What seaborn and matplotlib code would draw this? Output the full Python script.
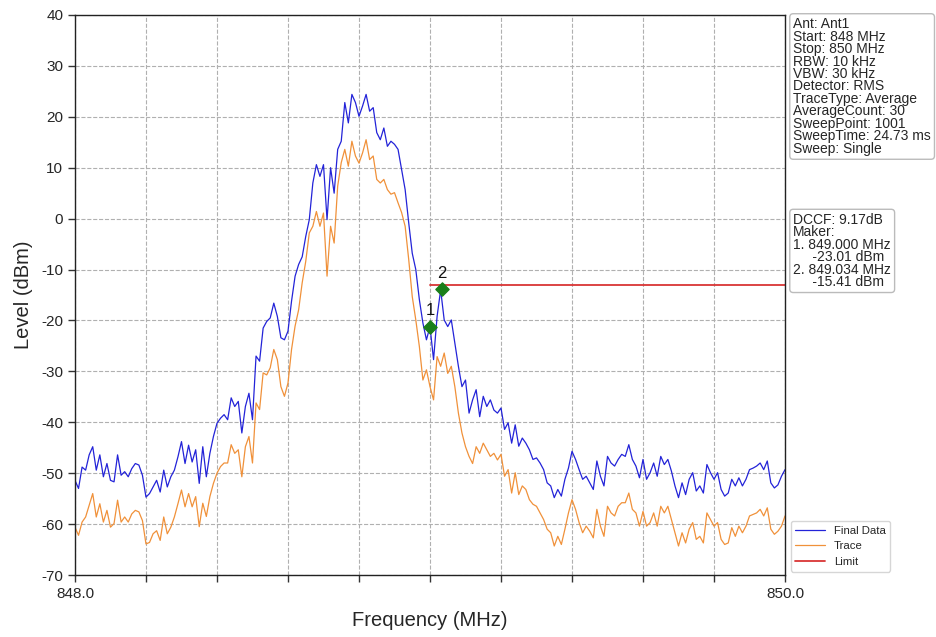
import numpy as np
import pandas as pd
import matplotlib
matplotlib.use("Agg")
import matplotlib.pyplot as plt
import seaborn as sns

# sweep settings
freq_start = 848.0
freq_stop = 850.0

# Final Data trace (dBm), read every 10 kHz from 848.00 to 850.00 MHz
final_data = [
    -51.4, -53.0, -48.8, -49.4, -46.4, -44.8, -49.4, -46.4, -50.7, -48.1,
    -51.4, -51.7, -46.4, -50.4, -49.7, -50.7, -49.1, -48.1, -48.4, -50.4,
    -54.7, -54.0, -52.7, -51.4, -53.7, -49.4, -52.7, -50.7, -49.4, -46.8,
    -43.8, -48.1, -44.5, -47.8, -45.4, -52.0, -44.8, -50.7, -46.1, -42.8,
    -40.2, -39.2, -38.5, -39.5, -35.2, -36.9, -35.9, -42.1, -36.9, -34.3,
    -39.5, -27.0, -28.0, -21.5, -20.2, -19.5, -16.6, -19.2, -23.4, -23.8,
    -22.1, -16.2, -11.3, -9.0, -7.5, -3.5, -0.2, 7.0, 10.6, 8.3,
    10.6, -0.2, 10.0, 5.0, 13.6, 15.2, 22.8, 18.8, 24.4, 22.8,
    20.1, 22.1, 24.4, 21.1, 21.8, 16.9, 15.5, 17.8, 14.2, 15.2,
    14.6, 13.6, 9.6, 5.7, -0.8, -6.8, -10.0, -15.9, -20.5, -23.8,
    -21.2, -27.7, -19.2, -14.0, -19.9, -21.2, -19.9, -24.5, -29.0, -33.0,
    -31.7, -38.2, -35.6, -33.6, -38.9, -34.9, -36.9, -35.6, -37.6, -38.2,
    -37.2, -41.4, -40.1, -44.1, -40.5, -44.7, -43.1, -44.1, -45.4, -47.3,
    -47.0, -48.0, -49.3, -51.9, -52.5, -54.8, -53.2, -54.5, -51.2, -49.0,
    -45.7, -47.3, -49.3, -51.2, -50.6, -51.9, -53.2, -47.6, -50.6, -52.5,
    -46.7, -48.0, -48.6, -47.3, -46.3, -46.7, -44.4, -47.3, -48.6, -50.9,
    -47.3, -51.2, -49.9, -48.0, -50.6, -46.7, -48.3, -47.3, -49.6, -52.5,
    -54.8, -51.9, -54.2, -51.2, -49.9, -53.5, -52.5, -53.9, -48.3, -49.9,
    -51.2, -49.9, -53.2, -54.5, -53.9, -51.2, -52.5, -50.9, -52.5, -51.2,
    -49.3, -49.0, -48.6, -48.0, -49.3, -47.6, -51.9, -52.9, -52.3, -50.6,
    -49.3,
]

# Trace (dBm), same frequency points
trace_data = [
    -60.6, -62.2, -59.6, -58.6, -56.3, -54.0, -58.6, -56.0, -59.6, -57.3,
    -60.6, -59.9, -55.3, -59.6, -58.6, -59.6, -58.0, -57.3, -57.6, -59.3,
    -63.9, -63.6, -61.9, -61.3, -63.2, -58.6, -61.9, -60.6, -58.6, -56.0,
    -53.3, -56.6, -54.0, -56.6, -54.6, -60.5, -55.9, -58.5, -54.6, -52.0,
    -50.0, -48.7, -48.0, -48.0, -44.4, -46.1, -45.4, -50.7, -44.8, -42.8,
    -48.0, -36.2, -37.5, -30.3, -30.7, -29.3, -25.7, -27.7, -33.0, -34.9,
    -32.3, -25.7, -21.1, -17.9, -12.6, -8.4, -2.8, -1.5, 1.4, -1.5,
    1.1, -11.3, -1.5, -4.8, 6.4, 11.0, 13.6, 10.3, 15.2, 12.3,
    10.9, 12.9, 15.5, 11.6, 12.3, 7.7, 7.0, 7.7, 5.7, 4.8,
    5.1, 3.1, 1.2, -1.5, -8.0, -15.3, -19.9, -25.1, -31.7, -29.7,
    -33.0, -35.6, -27.1, -29.0, -26.4, -30.4, -29.0, -33.0, -38.2, -42.1,
    -44.8, -46.7, -48.1, -44.8, -46.1, -44.1, -45.4, -46.7, -46.1, -47.4,
    -46.3, -50.6, -49.3, -53.9, -49.9, -54.2, -52.5, -53.2, -55.2, -56.1,
    -56.5, -57.8, -59.1, -61.0, -61.7, -64.3, -62.4, -64.0, -61.0, -57.8,
    -55.2, -57.1, -59.7, -61.7, -60.4, -61.4, -62.7, -57.1, -60.4, -62.4,
    -56.5, -57.8, -58.4, -56.5, -55.8, -55.8, -53.9, -57.1, -57.8, -60.4,
    -57.5, -60.4, -59.7, -57.8, -60.4, -56.5, -57.8, -56.5, -59.1, -61.7,
    -64.3, -61.7, -63.7, -61.0, -59.7, -63.0, -62.4, -63.7, -57.8, -59.1,
    -60.4, -59.7, -63.0, -64.0, -63.7, -60.7, -62.4, -60.4, -61.7, -60.4,
    -58.4, -58.1, -57.8, -57.1, -58.4, -56.8, -61.0, -62.0, -61.4, -60.4,
    -58.4,
]

limit_freq = [849.0, 850.0]
limit_level = [-13.0, -13.0]

marker_freq = [849.000, 849.034]
marker_level = [-21.2, -13.8]
marker_names = ["1", "2"]

info_text = ("Ant: Ant1\nStart: 848 MHz\nStop: 850 MHz\nRBW: 10 kHz\nVBW: 30 kHz\n"
             "Detector: RMS\nTraceType: Average\nAverageCount: 30\nSweepPoint: 1001\n"
             "SweepTime: 24.73 ms\nSweep: Single")
marker_text = ("DCCF: 9.17dB\nMaker:\n1. 849.000 MHz\n     -23.01 dBm\n"
               "2. 849.034 MHz\n     -15.41 dBm")

freq = np.linspace(freq_start, freq_stop, len(final_data))
df = pd.DataFrame({"freq": freq, "final": final_data, "trace": trace_data})

sns.set_style("whitegrid")
plt.rcParams["font.family"] = ["Liberation Sans", "DejaVu Sans"]
plt.rcParams["axes.unicode_minus"] = False

fig = plt.figure(figsize=(9.36, 6.37), dpi=100)
ax = fig.add_axes([0.0801, 0.0973, 0.7586, 0.8792])

sns.lineplot(data=df, x="freq", y="final", ax=ax, color="#2323d8", linewidth=0.9, label="Final Data")
sns.lineplot(data=df, x="freq", y="trace", ax=ax, color="#f0913a", linewidth=0.9, label="Trace")
sns.lineplot(x=limit_freq, y=limit_level, ax=ax, color="#d93535", linewidth=1.3, label="Limit")

ax.scatter(marker_freq, marker_level, marker="D", s=45, color="#1a7f1a", zorder=5)
for mf, ml, mn in zip(marker_freq, marker_level, marker_names):
    ax.text(mf, ml + 1.6, mn, ha="center", va="bottom", fontsize=12, color="#111111")

ax.set_xlim(freq_start, freq_stop)
ax.set_ylim(-70, 40)
ax.set_xticks(np.arange(0, 11) * 0.2 + freq_start)
ax.set_xticklabels(["848.0"] + [""] * 9 + ["850.0"])
ax.set_yticks(np.arange(-70, 41, 10))
ax.tick_params(axis="both", labelsize=11, length=5, width=1, color="#333333", direction="out",
               bottom=True, left=True)
ax.grid(True, color="#b0b0b0", linestyle="--", linewidth=0.8)
for s in ax.spines.values():
    s.set_color("#222222")
    s.set_linewidth(1.0)

ax.set_xlabel("Frequency (MHz)", fontsize=14.5, labelpad=7)
ax.set_ylabel("Level (dBm)", fontsize=14.5, labelpad=6)

box = dict(boxstyle="round,pad=0.25", facecolor="white", edgecolor="#bbbbbb", linewidth=1)
fig.text(0.8475, 0.973, info_text, ha="left", va="top", fontsize=10, linespacing=0.86, bbox=box)
fig.text(0.8475, 0.666, marker_text, ha="left", va="top", fontsize=10, linespacing=0.86, bbox=box)

leg = ax.legend(loc="lower left", bbox_to_anchor=(1.003, 0.0), fontsize=8.2, frameon=True,
                handlelength=2.6, borderaxespad=0.3, labelspacing=0.5)
leg.get_frame().set_edgecolor("#cccccc")

fig.savefig("out.png", dpi=100)
